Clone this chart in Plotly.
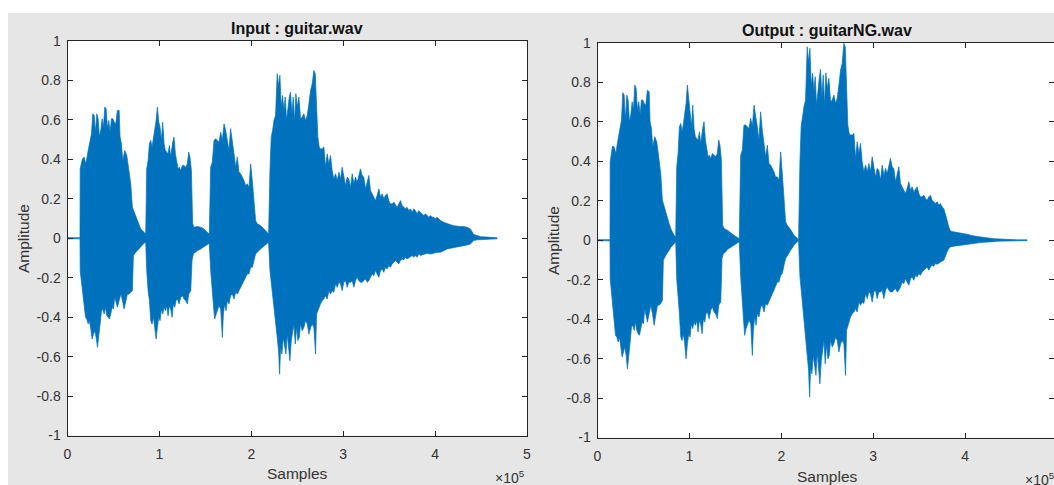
import plotly.graph_objects as go

# Envelope of the two recordings, read at these sample positions (thousands of samples).
UP_POS = [
    0.0, 13.6,
    13.8, 16.3, 18.1, 19.9, 22.5, 24.6, 26.1, 27.5, 29.0, 30.4, 31.9, 33.3, 34.8, 36.2, 37.7,
    39.1, 40.6, 42.0, 43.5, 44.9, 46.4, 47.8, 49.3, 50.7, 52.5, 54.3, 56.2, 57.2, 58.7, 60.1,
    62.3, 64.5, 65.9, 67.4, 68.8, 70.6, 72.5, 74.3, 76.1, 77.9, 79.7, 81.5, 83.3, 85.1,
    86.2, 87.7, 89.1, 90.6, 92.0, 93.5, 94.9, 96.4, 97.8, 99.3, 100.7, 102.2, 103.6, 105.1,
    106.5, 108.0, 109.4, 110.9, 112.3, 114.5, 115.9, 117.4, 118.8, 120.3, 121.7, 123.2, 125.0,
    126.8, 128.6, 130.4, 131.9, 133.3, 134.8, 136.2, 137.7, 141.3, 144.9, 148.5, 152.2, 154.3,
    155.8, 157.6, 159.4, 161.2, 163.0, 164.8, 166.7, 168.5, 170.3, 172.1, 173.9, 175.7, 177.5,
    179.3, 181.2, 183.0, 184.8, 186.6, 188.4, 190.2, 192.0, 193.8, 195.6, 197.5, 199.3, 201.1,
    202.9, 204.7, 206.5, 210.1, 213.8, 217.4, 218.8,
    220.3, 221.7, 223.2, 224.6, 226.4, 228.2, 229.7, 231.1, 232.6, 234.0, 235.5, 236.9, 238.4,
    239.8, 241.3, 242.7, 244.2, 245.6, 247.1, 248.5, 250.0, 251.8, 253.6, 255.4, 257.2, 259.0,
    260.9, 262.7, 264.5, 266.3, 268.1, 269.6, 271.0, 272.4, 273.9, 275.3,
    277.2, 279.0, 280.8, 282.6, 284.4, 286.2, 288.0, 289.8, 291.7, 293.5,
    295.3, 297.1, 298.9, 300.7, 302.5, 304.3, 306.1, 308.0, 309.8, 311.6,
    313.4, 315.2, 317.0, 318.8, 320.6, 322.4, 324.3, 326.1, 327.9, 329.7,
    331.5, 333.3, 335.1, 336.9, 338.8, 340.6, 342.4, 344.2, 346.0, 347.8,
    349.6, 351.4, 353.2, 355.1, 356.9, 358.7, 360.5, 362.3, 364.1, 365.9,
    367.7, 369.5, 371.4, 373.2, 375.0, 376.8, 378.6, 380.4, 382.2, 384.0,
    385.8, 387.7, 389.5, 391.3, 393.1, 394.9, 396.7, 398.5, 400.3, 402.2,
    404.0, 405.8,
    409.4, 413.0, 416.6, 420.3, 423.9, 427.5, 431.1, 434.8, 438.4,
    440.2, 442.0, 445.6, 449.3, 452.9, 456.5, 460.1, 463.7, 467.4,
]

LO_POS = [
    0.0, 13.6,
    13.8, 15.2, 16.7, 18.1, 19.6, 21.0, 22.5, 23.9, 25.4, 26.8, 28.3, 29.7, 31.2, 32.6, 34.1,
    35.5, 37.0, 38.4, 39.9, 41.3, 42.8, 44.2, 45.7, 47.1, 48.5, 50.0, 51.4, 52.9, 54.3, 56.2,
    58.0, 59.8, 61.6, 63.4, 65.2, 67.0, 68.8, 70.6, 71.7, 74.3, 76.1, 77.9, 79.7, 81.5, 83.3, 85.1,
    86.2, 87.7, 89.1, 90.6, 92.0, 93.5, 94.9, 96.4, 97.8, 99.3, 100.7, 102.2, 103.6, 105.1,
    106.5, 108.0, 109.4, 110.9, 112.3, 113.8, 115.2, 116.7, 118.1, 119.6, 121.4, 123.2, 125.0,
    126.8, 128.6, 130.4, 131.9, 134.1, 135.5, 136.9, 139.5, 141.3, 144.9, 148.5, 152.2, 154.3,
    155.8, 157.2, 158.7, 160.1, 161.6, 163.0, 164.8, 166.7, 168.5, 169.6, 171.0, 172.5, 173.9,
    175.7, 177.5, 179.3, 181.2, 183.0, 184.8, 186.6, 188.4, 190.2, 192.0, 193.8, 195.6, 197.5,
    199.3, 201.1, 202.9, 204.7, 206.5, 210.1, 213.8, 217.4, 218.8,
    220.3, 221.7, 223.2, 224.6, 226.4, 228.2, 229.7, 230.8, 231.9, 233.3, 234.8, 236.2, 237.7,
    239.1, 240.6, 242.0, 243.5, 244.9, 246.4, 247.8, 249.3, 250.7, 252.2, 253.6, 255.4, 257.2,
    259.0, 260.9, 262.7, 264.5, 266.3, 268.1, 269.9, 271.0, 272.4, 273.9, 275.3,
    277.2, 279.0, 280.8, 282.6, 284.4, 286.2, 288.0, 289.8, 291.7, 293.5,
    295.3, 297.1, 298.9, 300.7, 302.5, 304.3, 306.1, 308.0, 309.8, 311.6,
    313.4, 315.2, 317.0, 318.8, 320.6, 322.4, 324.3, 326.1, 327.9, 329.7,
    331.5, 333.3, 335.1, 336.9, 338.8, 340.6, 342.4, 344.2, 346.0, 347.8,
    349.6, 351.4, 353.2, 355.1, 356.9, 358.7, 360.5, 362.3, 364.1, 365.9,
    367.7, 369.5, 371.4, 373.2, 375.0, 376.8, 378.6, 380.4, 382.2, 384.0,
    387.7, 391.3, 394.9, 398.5, 402.2, 405.8, 409.4, 413.0, 416.6, 420.3,
    423.9, 427.5, 431.1, 434.8, 438.4,
    440.2, 442.0, 445.6, 449.3, 456.5, 467.4,
]

# guitar.wav : positive and negative peaks
IN_UP = [
    0.003, 0.003,
    0.352, 0.403, 0.411, 0.377, 0.445, 0.487, 0.530, 0.631, 0.623, 0.538, 0.631, 0.606, 0.513,
    0.547, 0.606, 0.563, 0.665, 0.657, 0.555, 0.597, 0.538, 0.606, 0.606, 0.589, 0.580, 0.648,
    0.648, 0.513, 0.479, 0.394, 0.445, 0.420, 0.377, 0.327, 0.276, 0.157, 0.132, 0.107, 0.090,
    0.064, 0.047, 0.039, 0.030, 0.022,
    0.352, 0.394, 0.479, 0.496, 0.462, 0.504, 0.547, 0.597, 0.665, 0.589, 0.563, 0.496, 0.589,
    0.479, 0.445, 0.437, 0.428, 0.470, 0.411, 0.487, 0.513, 0.428, 0.394, 0.352, 0.360, 0.343,
    0.369, 0.369, 0.360, 0.377, 0.437, 0.411, 0.343, 0.073, 0.056, 0.059, 0.056, 0.047, 0.030,
    0.022,
    0.360, 0.386, 0.496, 0.504, 0.496, 0.487, 0.538, 0.496, 0.580, 0.547, 0.496, 0.445, 0.555,
    0.479, 0.428, 0.360, 0.411, 0.335, 0.327, 0.310, 0.293, 0.267, 0.276, 0.259, 0.377, 0.293,
    0.191, 0.090, 0.073, 0.064, 0.047, 0.030, 0.022,
    0.343, 0.513, 0.547, 0.597, 0.623, 0.834, 0.775, 0.826, 0.665, 0.724, 0.648, 0.716, 0.597,
    0.665, 0.716, 0.741, 0.631, 0.716, 0.589, 0.733, 0.665, 0.716, 0.606, 0.614, 0.631, 0.597,
    0.623, 0.682, 0.750, 0.783, 0.851, 0.834, 0.623, 0.513, 0.462, 0.453,
    0.453, 0.462, 0.360, 0.428, 0.377, 0.420, 0.343, 0.301, 0.327, 0.293,
    0.335, 0.301, 0.360, 0.310, 0.267, 0.310, 0.301, 0.259, 0.327, 0.276,
    0.310, 0.284, 0.327, 0.352, 0.318, 0.310, 0.250, 0.284, 0.318, 0.242,
    0.225, 0.208, 0.191, 0.217, 0.250, 0.208, 0.225, 0.200, 0.217, 0.225,
    0.191, 0.174, 0.174, 0.183, 0.166, 0.157, 0.174, 0.191, 0.166, 0.157,
    0.149, 0.157, 0.140, 0.149, 0.132, 0.149, 0.140, 0.124, 0.140, 0.132,
    0.124, 0.115, 0.124, 0.115, 0.107, 0.115, 0.107, 0.107, 0.098, 0.107,
    0.098, 0.090,
    0.081, 0.073, 0.069, 0.064, 0.061, 0.059, 0.059, 0.056, 0.047,
    0.030, 0.019, 0.014, 0.008, 0.007, 0.005, 0.003, 0.002, 0.002,
]

IN_LO = [
    -0.003, -0.003,
    -0.164, -0.215, -0.266, -0.333, -0.401, -0.409, -0.435, -0.418, -0.460, -0.511, -0.486,
    -0.469, -0.503, -0.553, -0.503, -0.435, -0.367, -0.359, -0.384, -0.350, -0.393, -0.401,
    -0.409, -0.384, -0.350, -0.359, -0.299, -0.325, -0.350, -0.316, -0.283, -0.316, -0.359,
    -0.316, -0.283, -0.283, -0.274, -0.266, -0.088, -0.071, -0.063, -0.054, -0.042, -0.034,
    -0.025, -0.020,
    -0.164, -0.266, -0.316, -0.418, -0.435, -0.401, -0.452, -0.511, -0.452, -0.401, -0.418,
    -0.359, -0.384, -0.350, -0.367, -0.342, -0.393, -0.342, -0.359, -0.401, -0.333, -0.350,
    -0.316, -0.308, -0.333, -0.299, -0.291, -0.308, -0.316, -0.333, -0.283, -0.266, -0.113,
    -0.080, -0.071, -0.063, -0.054, -0.046, -0.032, -0.025,
    -0.164, -0.249, -0.333, -0.409, -0.384, -0.367, -0.342, -0.359, -0.503, -0.384, -0.333,
    -0.367, -0.316, -0.333, -0.291, -0.283, -0.308, -0.274, -0.283, -0.266, -0.249, -0.232,
    -0.215, -0.198, -0.181, -0.181, -0.147, -0.147, -0.113, -0.080, -0.071, -0.054, -0.037,
    -0.025, -0.020,
    -0.164, -0.215, -0.283, -0.350, -0.418, -0.503, -0.570, -0.689, -0.553, -0.587, -0.503,
    -0.536, -0.587, -0.486, -0.553, -0.621, -0.519, -0.486, -0.435, -0.536, -0.452, -0.519,
    -0.503, -0.435, -0.469, -0.452, -0.418, -0.435, -0.486, -0.452, -0.435, -0.452, -0.587,
    -0.384, -0.367, -0.350, -0.333,
    -0.316, -0.308, -0.291, -0.308, -0.266, -0.283, -0.266, -0.274, -0.232, -0.249,
    -0.223, -0.232, -0.266, -0.223, -0.215, -0.249, -0.223, -0.223, -0.215, -0.249,
    -0.215, -0.198, -0.215, -0.223, -0.223, -0.215, -0.206, -0.223, -0.215, -0.198,
    -0.181, -0.190, -0.164, -0.181, -0.198, -0.164, -0.156, -0.173, -0.147, -0.156,
    -0.139, -0.147, -0.130, -0.122, -0.113, -0.122, -0.130, -0.113, -0.105, -0.110,
    -0.096, -0.105, -0.096, -0.093, -0.088, -0.096, -0.088, -0.096, -0.080, -0.088,
    -0.083, -0.076, -0.080, -0.076, -0.071, -0.071, -0.063, -0.054, -0.049, -0.046,
    -0.042, -0.039, -0.037, -0.034, -0.029,
    -0.020, -0.012, -0.008, -0.007, -0.005, -0.003,
]

# guitarNG.wav : positive and negative peaks
OUT_UP = [
    0.003, 0.003,
    0.398, 0.477, 0.474, 0.440, 0.516, 0.567, 0.609, 0.748, 0.736, 0.609, 0.736, 0.711, 0.601,
    0.635, 0.702, 0.660, 0.787, 0.770, 0.660, 0.702, 0.635, 0.711, 0.711, 0.694, 0.685, 0.761,
    0.753, 0.601, 0.567, 0.474, 0.525, 0.499, 0.448, 0.398, 0.338, 0.203, 0.169, 0.135, 0.110,
    0.085, 0.059, 0.042, 0.025, 0.017,
    0.372, 0.440, 0.575, 0.592, 0.550, 0.592, 0.635, 0.694, 0.787, 0.694, 0.651, 0.575, 0.685,
    0.567, 0.525, 0.516, 0.508, 0.550, 0.491, 0.567, 0.601, 0.508, 0.474, 0.423, 0.431, 0.415,
    0.440, 0.431, 0.423, 0.440, 0.508, 0.482, 0.406, 0.076, 0.059, 0.051, 0.037, 0.025, 0.014,
    0.008,
    0.431, 0.457, 0.584, 0.584, 0.575, 0.567, 0.618, 0.575, 0.685, 0.635, 0.575, 0.508, 0.651,
    0.558, 0.499, 0.423, 0.482, 0.389, 0.381, 0.364, 0.347, 0.321, 0.321, 0.305, 0.448, 0.338,
    0.220, 0.093, 0.076, 0.054, 0.025, 0.008, 0.003,
    0.406, 0.584, 0.626, 0.677, 0.711, 0.981, 0.905, 0.973, 0.787, 0.846, 0.761, 0.829, 0.685,
    0.761, 0.821, 0.866, 0.728, 0.838, 0.685, 0.849, 0.770, 0.821, 0.702, 0.711, 0.736, 0.694,
    0.719, 0.787, 0.863, 0.897, 0.998, 0.981, 0.719, 0.584, 0.541, 0.533,
    0.533, 0.541, 0.415, 0.499, 0.440, 0.491, 0.398, 0.347, 0.381, 0.347,
    0.389, 0.347, 0.423, 0.364, 0.321, 0.364, 0.355, 0.305, 0.381, 0.330,
    0.364, 0.338, 0.381, 0.415, 0.372, 0.364, 0.296, 0.338, 0.372, 0.288,
    0.271, 0.254, 0.237, 0.262, 0.296, 0.254, 0.271, 0.245, 0.262, 0.271,
    0.237, 0.220, 0.220, 0.228, 0.212, 0.203, 0.220, 0.228, 0.203, 0.195,
    0.186, 0.195, 0.178, 0.186, 0.169, 0.161, 0.135, 0.102, 0.068, 0.047,
    0.044, 0.042, 0.041, 0.039, 0.039, 0.037, 0.036, 0.034, 0.032, 0.030,
    0.029, 0.025,
    0.022, 0.019, 0.017, 0.014, 0.012, 0.010, 0.008, 0.007, 0.005,
    0.005, 0.003, 0.003, 0.003, 0.003, 0.002, 0.002, 0.002, 0.002,
]

OUT_LO = [
    -0.003, -0.003,
    -0.195, -0.254, -0.321, -0.398, -0.482, -0.491, -0.516, -0.491, -0.541, -0.592, -0.567,
    -0.541, -0.584, -0.651, -0.592, -0.516, -0.440, -0.431, -0.457, -0.415, -0.457, -0.474,
    -0.482, -0.448, -0.415, -0.423, -0.347, -0.381, -0.415, -0.372, -0.330, -0.372, -0.431,
    -0.372, -0.330, -0.330, -0.321, -0.305, -0.102, -0.076, -0.064, -0.051, -0.037, -0.027,
    -0.017, -0.008,
    -0.195, -0.305, -0.372, -0.491, -0.508, -0.474, -0.525, -0.601, -0.525, -0.474, -0.491,
    -0.423, -0.448, -0.415, -0.431, -0.406, -0.465, -0.406, -0.423, -0.474, -0.398, -0.415,
    -0.372, -0.364, -0.398, -0.355, -0.338, -0.364, -0.372, -0.398, -0.330, -0.313, -0.093,
    -0.068, -0.059, -0.047, -0.037, -0.025, -0.014, -0.007,
    -0.186, -0.279, -0.389, -0.482, -0.448, -0.431, -0.406, -0.423, -0.584, -0.457, -0.389,
    -0.431, -0.372, -0.389, -0.338, -0.330, -0.364, -0.321, -0.330, -0.313, -0.288, -0.271,
    -0.254, -0.237, -0.212, -0.212, -0.178, -0.169, -0.127, -0.093, -0.076, -0.051, -0.025,
    -0.008, -0.003,
    -0.186, -0.254, -0.330, -0.406, -0.482, -0.584, -0.660, -0.795, -0.643, -0.677, -0.584,
    -0.618, -0.685, -0.567, -0.643, -0.728, -0.609, -0.567, -0.508, -0.626, -0.525, -0.601,
    -0.584, -0.508, -0.541, -0.525, -0.491, -0.508, -0.567, -0.525, -0.508, -0.525, -0.685,
    -0.457, -0.431, -0.415, -0.389,
    -0.372, -0.364, -0.347, -0.364, -0.313, -0.330, -0.313, -0.321, -0.271, -0.296,
    -0.262, -0.271, -0.313, -0.262, -0.254, -0.296, -0.262, -0.262, -0.254, -0.296,
    -0.254, -0.237, -0.254, -0.262, -0.262, -0.254, -0.245, -0.262, -0.254, -0.237,
    -0.212, -0.220, -0.195, -0.212, -0.228, -0.195, -0.186, -0.203, -0.178, -0.186,
    -0.169, -0.178, -0.161, -0.152, -0.144, -0.135, -0.152, -0.135, -0.127, -0.132,
    -0.118, -0.122, -0.115, -0.110, -0.105, -0.102, -0.085, -0.059, -0.042, -0.034,
    -0.030, -0.027, -0.025, -0.024, -0.020, -0.017, -0.015, -0.014, -0.012, -0.010,
    -0.008, -0.007, -0.007, -0.005, -0.003,
    -0.003, -0.003, -0.002, -0.002, -0.002, -0.002,
]

TITLES = ["Input : guitar.wav", "Output : guitarNG.wav"]
X_LABEL = "Samples"
Y_LABEL = "Amplitude"
X_TICKS = [0, 1, 2, 3, 4, 5]            # in units of 10^5 samples
Y_TICKS = [-1, -0.8, -0.6, -0.4, -0.2, 0, 0.2, 0.4, 0.6, 0.8, 1]
Y_TICK_TEXT = ["-1", "-0.8", "-0.6", "-0.4", "-0.2", "0", "0.2", "0.4", "0.6", "0.8", "1"]

assert len(UP_POS) == len(IN_UP) == len(OUT_UP), (len(UP_POS), len(IN_UP), len(OUT_UP))
assert len(LO_POS) == len(IN_LO) == len(OUT_LO), (len(LO_POS), len(IN_LO), len(OUT_LO))

W, H = 1054, 485
BLUE = "#0072BD"
AX = "#262626"
TXT = "#333333"
FONT = "Liberation Sans, Arial, sans-serif"


def fx(px):
    return px / W


def fy(py):
    return 1 - py / H


def waveform(up, lo, xa, ya):
    xs = [p * 1000 for p in UP_POS] + [p * 1000 for p in reversed(LO_POS)]
    ys = list(up) + list(reversed(lo))
    return go.Scatter(
        x=xs, y=ys, mode="lines", fill="toself", fillcolor=BLUE,
        line=dict(color=BLUE, width=0.7), xaxis=xa, yaxis=ya,
        hoverinfo="skip", showlegend=False,
    )


fig = go.Figure()
fig.add_trace(waveform(IN_UP, IN_LO, "x", "y"))
fig.add_trace(waveform(OUT_UP, OUT_LO, "x2", "y2"))
# carrier for the tick marks on the right edge of the second axes
fig.add_trace(go.Scatter(x=[], y=[], xaxis="x2", yaxis="y3", showlegend=False))

tickfont = dict(family=FONT, size=14, color=TXT)
x_vals = [t * 1e5 for t in X_TICKS]
x_text = [str(t) for t in X_TICKS]

common_x = dict(
    tickvals=x_vals, ticktext=x_text, ticks="inside", ticklen=5, tickcolor=AX,
    showline=True, linecolor=AX, linewidth=1, mirror="ticks",
    showgrid=False, zeroline=False, tickfont=tickfont, ticklabelstandoff=6,
)
common_y = dict(
    range=[-1, 1], tickvals=Y_TICKS, ticktext=Y_TICK_TEXT, ticks="inside", ticklen=5,
    tickcolor=AX, showline=True, linecolor=AX, linewidth=1,
    showgrid=False, zeroline=False, tickfont=tickfont, ticklabelstandoff=3,
)

# the second axes run past the right edge of the page
right_span = 5e5 * (W - 597.5) / (1057.0 - 597.5)

fig.update_layout(
    width=W, height=H,
    margin=dict(l=0, r=0, t=0, b=0, autoexpand=False),
    paper_bgcolor="#E6E6E6", plot_bgcolor="white",
    xaxis=dict(domain=[fx(67.5), fx(527.0)], range=[0, 5e5], anchor="y", **common_x),
    yaxis=dict(domain=[fy(435.5), fy(41.0)], anchor="x", mirror="ticks", **common_y),
    xaxis2=dict(domain=[fx(597.5), 1.0], range=[0, right_span], anchor="y2", **common_x),
    yaxis2=dict(domain=[fy(437.5), fy(43.0)], anchor="x2", mirror=False, **common_y),
    yaxis3=dict(overlaying="y2", anchor="x2", side="right", range=[-1, 1], tickvals=Y_TICKS,
                ticks="inside", ticklen=5, tickcolor=AX, showline=False,
                showticklabels=False, showgrid=False, zeroline=False),
    shapes=[
        dict(type="rect", xref="paper", yref="paper", x0=0, x1=1, y0=fy(13), y1=1,
             fillcolor="white", line=dict(width=0), layer="above"),
        dict(type="rect", xref="paper", yref="paper", x0=0, x1=fx(8), y0=0, y1=1,
             fillcolor="white", line=dict(width=0), layer="above"),
    ],
)

ann = []
title_font = dict(family=FONT, size=16, color="#111111")
label_font = dict(family=FONT, size=15.5, color=TXT)
ann.append(dict(text="<b>%s</b>" % TITLES[0], x=fx(296.5), y=fy(28), font=title_font))
ann.append(dict(text="<b>%s</b>" % TITLES[1], x=fx(827.0), y=fy(30), font=title_font))
ann.append(dict(text=Y_LABEL, x=fx(23.5), y=fy(238.5), textangle=-90, font=label_font))
ann.append(dict(text=Y_LABEL, x=fx(553.5), y=fy(240.5), textangle=-90, font=label_font))
ann.append(dict(text=X_LABEL, x=fx(297.5), y=fy(473.5), font=label_font))
ann.append(dict(text=X_LABEL, x=fx(827.5), y=fy(476.0), font=label_font))
ann.append(dict(text="\u00d710<sup>5</sup>", x=fx(527.0), y=fy(476.5), xanchor="right",
                font=dict(family=FONT, size=14, color=TXT)))
ann.append(dict(text="\u00d710<sup>5</sup>", x=fx(1023.0), y=fy(478.5), xanchor="left",
                font=dict(family=FONT, size=14, color=TXT)))
for a in ann:
    a.setdefault("xanchor", "center")
    a.update(xref="paper", yref="paper", yanchor="middle", showarrow=False)
fig.update_layout(annotations=ann)

# page without the default body margin, so the figure fills the window exactly
fig.write_html(
    "out.html",
    post_script="document.body.style.margin='0';"
                "document.documentElement.style.overflow='hidden';",
)
